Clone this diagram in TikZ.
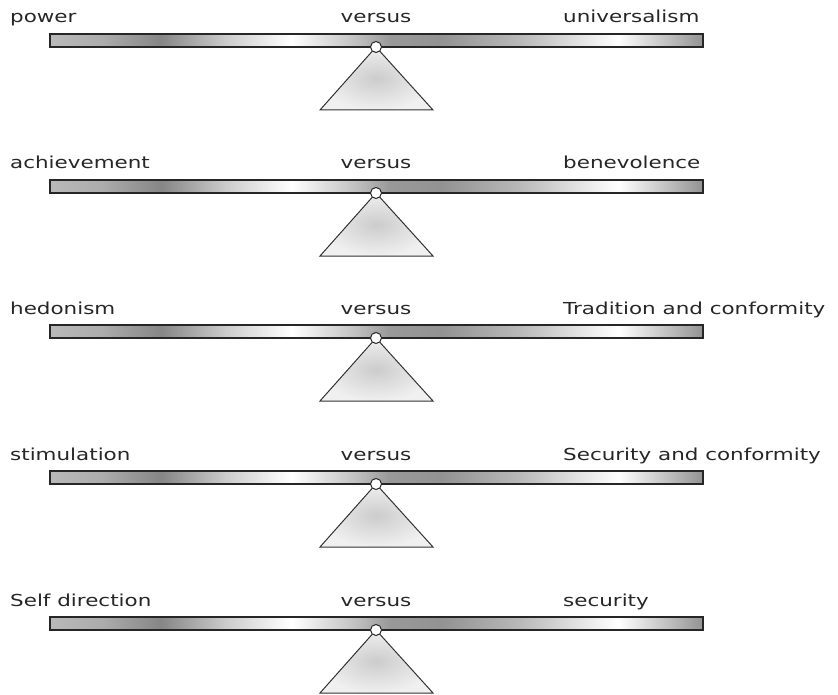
\documentclass[tikz,border=0pt]{standalone}
\usepackage{fontspec}
\setmainfont[FakeStretch=1.3]{DejaVu Sans}
\pgfdeclarehorizontalshading{metalbar}{100bp}{
  color(0bp)=(gray!55);
  color(25bp)=(gray!55);
  color(29bp)=(gray!65);
  color(33.5bp)=(gray!95);
  color(38.5bp)=(gray!40);
  color(43.5bp)=(white);
  color(48.5bp)=(gray!50);
  color(51bp)=(gray!80);
  color(55bp)=(gray!85);
  color(61bp)=(gray!55);
  color(68.5bp)=(white);
  color(75bp)=(gray!85);
  color(100bp)=(gray!85)}
\tikzset{
  lbl/.style={font=\fontsize{16.5}{16.5}\selectfont, text=black!85, inner sep=0pt},
  bar/.style={draw=black!85, line width=1.3pt, shading=metalbar},
  pivot/.style={circle, draw=black!85, line width=1pt, fill=white, minimum size=11pt, inner sep=0pt},
  stand/.style={draw=black!80, line width=1pt, inner color=gray!40, outer color=gray!12}
}
\begin{document}
\begin{tikzpicture}[x=1pt,y=-1pt]
\useasboundingbox (0,0) rectangle (838,695);
\foreach \i/\ty/\L/\R in {
  1/34/power/universalism,
  2/180/achievement/benevolence,
  3/325/hedonism/Tradition and conformity,
  4/471/stimulation/Security and conformity,
  5/617/Self direction/security}{
  \coordinate (apex\i) at (376,\ty+13);
  \coordinate (bl\i) at (320,\ty+76);
  \coordinate (br\i) at (433,\ty+76);
  \draw[stand] (apex\i) -- (bl\i) -- (br\i) -- cycle;
  \draw[bar] (50,\ty) rectangle (703,\ty+13);
  \node[pivot] (piv\i) at (apex\i) {};
  \node[lbl, anchor=base west] (left\i) at (10,\ty-11) {\L};
  \node[lbl, anchor=base] (mid\i) at (376,\ty-11) {versus};
  \node[lbl, anchor=base west] (right\i) at (563,\ty-11) {\R};
}
\end{tikzpicture}
\end{document}
